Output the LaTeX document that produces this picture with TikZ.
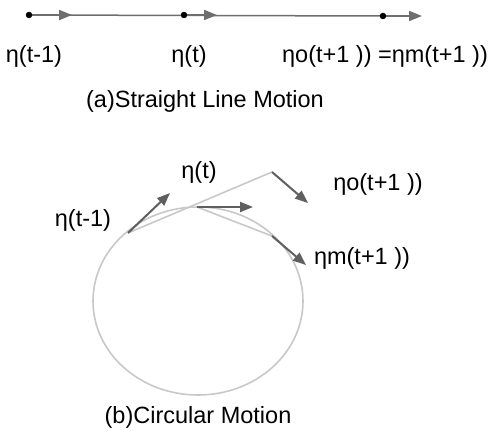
\documentclass[tikz,border=0pt]{standalone}
\usepackage{fontspec}
\setmainfont{Liberation Sans}
\usetikzlibrary{arrows.meta}
\definecolor{darkline}{RGB}{95,95,95}
\definecolor{midline}{RGB}{110,110,110}
\definecolor{lightline}{RGB}{200,200,200}
\tikzset{
    lbl/.style={font=\fontsize{23.5}{28}\selectfont, inner sep=0pt},
    vec/.style={draw=darkline, line width=2pt, -{Triangle[length=13pt,width=10pt]}},
    track/.style={draw=lightline, line width=1.6pt}
}
\begin{document}
\begin{tikzpicture}[x=1pt, y=-1pt]
        \useasboundingbox (0,0) rectangle (490,441);

        % (a) Straight line motion
        \coordinate (a0) at (29,15);
        \coordinate (a1) at (184,15);
        \coordinate (a2) at (383,16);
        \coordinate (h0) at (72,15);
        \coordinate (h1) at (217,15);
        \coordinate (h2) at (422,16);
        \draw[midline, line width=1.5pt] (a0) -- (a2);
        \draw[vec, draw=midline] (a0) -- (h0);
        \draw[vec, draw=midline] (a1) -- (h1);
        \draw[vec, draw=midline] (a2) -- (h2);
        \filldraw[black] (a0) circle (3pt);
        \filldraw[black] (a1) circle (3pt);
        \filldraw[black] (a2) circle (3pt);

        \node[lbl] (la0) at (34,56) {η(t-1)};
        \node[lbl] (la1) at (189,56) {η(t)};
        \node[lbl] (la2) at (385,56) {ηo(t+1 )) =ηm(t+1 ))};
        \node[lbl] (capa) at (205,101) {(a)Straight Line Motion};

        % (b) Circular motion
        \coordinate (c) at (198,301);
        \coordinate (p0) at (128,233);
        \coordinate (p1) at (197,207);
        \coordinate (po) at (272,172);
        \coordinate (pm) at (272,236);
        \coordinate (v0) at (170,193);
        \coordinate (v1) at (253,207);
        \coordinate (vo) at (308,203);
        \coordinate (vm) at (306,265);

        \draw[track] (c) ellipse (105pt and 94pt);
        \draw[track] (p0) -- (po); % extrapolated point
        \draw[track] (p1) -- (pm); % point on the circle

        \draw[vec] (p0) -- (v0);
        \draw[vec] (p1) -- (v1);
        \draw[vec] (po) -- (vo);
        \draw[vec] (pm) -- (vm);

        \node[lbl] (lb0) at (83,220) {η(t-1)};
        \node[lbl] (lb1) at (199,172) {η(t)};
        \node[lbl] (lbo) at (378,184) {ηo(t+1 ))};
        \node[lbl] (lbm) at (362,258) {ηm(t+1 ))};
        \node[lbl] (capb) at (198,417) {(b)Circular Motion};
    \end{tikzpicture}
\end{document}
